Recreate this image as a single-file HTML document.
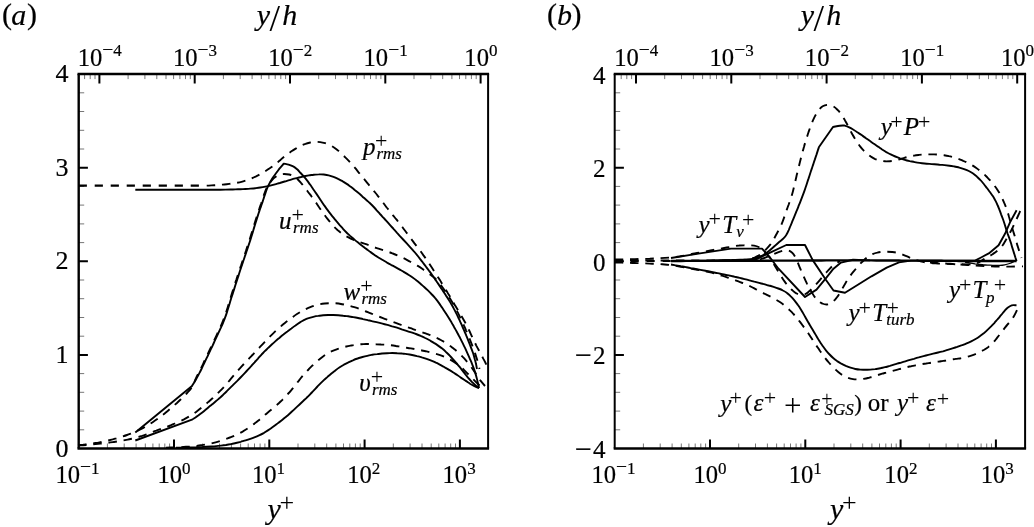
<!DOCTYPE html>
<html lang="en"><head><meta charset="utf-8"><title>Figure: rms profiles and TKE budget</title>
<style>html,body{margin:0;padding:0;background:#fff}body{width:1034px;height:527px;overflow:hidden}svg{display:block}svg text{font-family:'Liberation Serif', 'DejaVu Serif', serif;fill:#000;stroke:#000;stroke-width:.2px}.i{font-style:italic}.n{stroke:none}</style></head><body>
<svg width="1034" height="527" viewBox="0 0 1034 527">
<rect width="1034" height="527" fill="#fff"/>
<g fill="none" stroke="#000" stroke-linecap="butt" stroke-linejoin="round">
<g id="panel-a">
<path d="M107.4 448.5V443.5M124.2 448.5V443.5M136.1 448.5V443.5M145.3 448.5V443.5M152.9 448.5V443.5M159.2 448.5V443.5M164.8 448.5V443.5M169.6 448.5V443.5M202.7 448.5V443.5M219.5 448.5V443.5M231.4 448.5V443.5M240.6 448.5V443.5M248.2 448.5V443.5M254.5 448.5V443.5M260.1 448.5V443.5M264.9 448.5V443.5M298 448.5V443.5M314.8 448.5V443.5M326.7 448.5V443.5M335.9 448.5V443.5M343.5 448.5V443.5M349.8 448.5V443.5M355.4 448.5V443.5M360.2 448.5V443.5M393.3 448.5V443.5M410.1 448.5V443.5M422 448.5V443.5M431.2 448.5V443.5M438.8 448.5V443.5M445.1 448.5V443.5M450.7 448.5V443.5M455.5 448.5V443.5M84.6 74.1V79.1M90.2 74.1V79.1M95 74.1V79.1M128.1 74.1V79.1M144.9 74.1V79.1M156.8 74.1V79.1M166 74.1V79.1M173.6 74.1V79.1M179.9 74.1V79.1M185.5 74.1V79.1M190.3 74.1V79.1M223.4 74.1V79.1M240.2 74.1V79.1M252.1 74.1V79.1M261.3 74.1V79.1M268.9 74.1V79.1M275.2 74.1V79.1M280.8 74.1V79.1M285.6 74.1V79.1M318.7 74.1V79.1M335.5 74.1V79.1M347.4 74.1V79.1M356.6 74.1V79.1M364.2 74.1V79.1M370.5 74.1V79.1M376.1 74.1V79.1M380.9 74.1V79.1M414 74.1V79.1M430.8 74.1V79.1M442.7 74.1V79.1M451.9 74.1V79.1M459.5 74.1V79.1M465.8 74.1V79.1M471.4 74.1V79.1M476.2 74.1V79.1M78.7 92.8H84.2M78.7 111.5H84.2M78.7 130.3H84.2M78.7 149H84.2M78.7 186.4H84.2M78.7 205.1H84.2M78.7 223.9H84.2M78.7 242.6H84.2M78.7 280H84.2M78.7 298.7H84.2M78.7 317.5H84.2M78.7 336.2H84.2M78.7 373.6H84.2M78.7 392.3H84.2M78.7 411.1H84.2M78.7 429.8H84.2" stroke="#777" stroke-width="1"/>
<path d="M174 448.5V439.5M269.3 448.5V439.5M364.6 448.5V439.5M459.9 448.5V439.5M99.4 74.1V83.6M194.7 74.1V83.6M290 74.1V83.6M385.3 74.1V83.6M480.6 74.1V83.6M78.7 167.7H87.9M78.7 261.3H87.9M78.7 354.9H87.9" stroke-width="2"/>
<path d="M77.5 74.1H489.1" stroke-width="2.5"/>
<path d="M77.5 448.5H489.1" stroke-width="2.5"/>
<path d="M78.7 74.1V448.5" stroke-width="2.4"/>
<path d="M488.1 74.1V448.5" stroke-width="2"/>
<path d="M78.7 185.7L206.7 185.7" stroke-width="2.2" stroke-dasharray="8.2 7.8"/>
<path d="M206.7 185.6C207.5 185.6 210 185.5 211.7 185.4C213.4 185.3 215 185.2 216.7 185.1C218.4 185 220 184.8 221.7 184.7C223.3 184.5 225 184.4 226.7 184.2C228.3 184 230 183.8 231.6 183.6C233.3 183.3 234.9 183.1 236.6 182.8C238.2 182.5 239.8 182.2 241.5 181.8C243.1 181.4 244.7 180.9 246.3 180.4C247.8 179.9 249.4 179.3 251 178.6C252.5 178 254 177.3 255.6 176.6C257.1 175.9 258.5 175.2 260 174.4C261.5 173.6 262.9 172.7 264.3 171.8C265.7 171 267.2 170.1 268.5 169.1C269.9 168.2 271.4 167.3 272.7 166.3C274.1 165.4 275.4 164.4 276.7 163.3C277.9 162.2 279.1 161.1 280.4 160C281.6 158.9 282.8 157.7 284.1 156.7C285.4 155.6 286.8 154.7 288.1 153.7C289.5 152.7 290.9 151.8 292.3 150.8C293.7 149.9 295 148.9 296.5 148.1C297.9 147.2 299.3 146.4 300.8 145.7C302.3 145 303.9 144.4 305.5 143.9C307.1 143.3 308.7 142.9 310.3 142.5C311.9 142.2 313.6 141.9 315.2 141.8C316.9 141.8 318.6 141.9 320.2 142.1C321.8 142.3 323.5 142.7 325.1 143.2C326.6 143.7 328.2 144.3 329.7 145C331.2 145.7 332.6 146.6 334 147.5C335.4 148.5 336.7 149.5 338 150.6C339.3 151.6 340.5 152.7 341.7 153.9C343 155 344.2 156.2 345.3 157.4C346.5 158.5 347.7 159.7 348.8 160.9C350 162.2 351.1 163.4 352.2 164.6C353.3 165.9 354.4 167.2 355.5 168.4C356.5 169.7 357.6 171 358.6 172.3C359.7 173.6 360.7 174.9 361.8 176.2C362.8 177.5 363.9 178.8 365 180.1C366 181.3 367.1 182.6 368.1 183.9C369.2 185.2 370.2 186.5 371.3 187.8C372.4 189.1 373.4 190.4 374.5 191.7C375.5 192.9 376.6 194.2 377.6 195.6C378.6 196.9 379.6 198.2 380.7 199.5C381.7 200.9 382.6 202.2 383.7 203.5C384.7 204.8 385.7 206.2 386.7 207.5C387.8 208.8 388.8 210.1 389.9 211.4C390.9 212.7 392 214 393 215.3C394.1 216.6 395.1 217.9 396.2 219.2C397.2 220.5 398.2 221.8 399.3 223.1C400.3 224.4 401.3 225.7 402.3 227C403.3 228.4 404.3 229.7 405.3 231C406.3 232.4 407.3 233.7 408.3 235C409.3 236.4 410.3 237.7 411.3 239.1C412.3 240.4 413.3 241.7 414.3 243.1C415.3 244.4 416.3 245.7 417.3 247C418.4 248.4 419.4 249.7 420.4 251C421.4 252.4 422.3 253.7 423.3 255.1C424.3 256.4 425.2 257.8 426.2 259.2C427.1 260.5 428.1 261.9 429 263.3C429.9 264.7 430.8 266.1 431.8 267.5C432.7 268.9 433.6 270.3 434.5 271.7C435.4 273.1 436.3 274.5 437.2 275.9C438.1 277.3 439 278.7 439.9 280.1C440.8 281.5 441.6 282.9 442.5 284.3C443.4 285.8 444.3 287.2 445.1 288.6C446 290 446.9 291.5 447.7 292.9C448.6 294.3 449.4 295.8 450.3 297.2C451.1 298.6 452 300.1 452.8 301.5C453.6 303 454.5 304.4 455.3 305.8C456.2 307.3 457 308.7 457.9 310.1C458.7 311.6 459.6 313 460.5 314.4C461.3 315.9 462.2 317.3 463 318.7C463.9 320.2 464.7 321.6 465.5 323.1C466.3 324.6 467 326 467.8 327.5C468.5 329 469.2 330.5 469.9 332C470.6 333.5 471.3 335.1 472 336.6C472.7 338.1 473.4 339.6 474.1 341.1C474.9 342.6 475.6 344.1 476.3 345.6C477.1 347.1 477.9 348.6 478.7 350C479.4 351.5 480.2 353 481 354.4C481.8 355.9 482.6 357.4 483.4 358.9C484.2 360.3 485.1 362.1 485.7 363.3C486.3 364.5 486.8 365.6 487 366" stroke-width="1.9" stroke-dasharray="8.5 6.8"/>
<path d="M135.3 189.7C136.1 189.7 138.6 189.7 140.3 189.7C142 189.7 143.6 189.7 145.3 189.8C147 189.8 148.6 189.8 150.3 189.8C152 189.8 153.7 189.8 155.3 189.8C157 189.8 158.7 189.8 160.3 189.8C162 189.8 163.7 189.8 165.3 189.8C167 189.8 168.7 189.8 170.3 189.8C172 189.8 173.7 189.8 175.3 189.8C177 189.8 178.7 189.8 180.3 189.8C182 189.8 183.7 189.8 185.4 189.8C187 189.8 188.7 189.8 190.4 189.8C192 189.8 193.7 189.8 195.4 189.8C197 189.8 198.7 189.8 200.4 189.8C202 189.8 203.7 189.8 205.4 189.8C207 189.8 208.7 189.8 210.4 189.8C212 189.7 213.7 189.7 215.4 189.7C217.1 189.7 218.7 189.7 220.4 189.7C222.1 189.7 223.7 189.7 225.4 189.6C227.1 189.6 228.7 189.6 230.4 189.5C232.1 189.5 233.7 189.4 235.4 189.4C237.1 189.3 238.7 189.3 240.4 189.2C242.1 189.1 243.7 189.1 245.4 189C247.1 188.9 248.7 188.8 250.4 188.6C252.1 188.5 253.7 188.4 255.4 188.2C257 188 258.7 187.8 260.3 187.5C262 187.3 263.6 187 265.3 186.6C266.9 186.3 268.5 186 270.2 185.6C271.8 185.2 273.4 184.8 275 184.3C276.6 183.9 278.2 183.4 279.8 183C281.4 182.5 283 182 284.6 181.5C286.2 181 287.8 180.6 289.4 180.1C291 179.6 292.6 179.2 294.2 178.7C295.8 178.3 297.5 177.9 299.1 177.5C300.7 177.1 302.3 176.7 304 176.3C305.6 176 307.2 175.7 308.9 175.4C310.5 175.2 312.2 174.9 313.8 174.7C315.5 174.6 317.2 174.4 318.8 174.4C320.5 174.3 322.2 174.3 323.8 174.5C325.5 174.7 327.1 174.9 328.7 175.3C330.3 175.7 331.9 176.2 333.5 176.8C335 177.4 336.6 178.1 338.1 178.9C339.6 179.6 341 180.4 342.5 181.2C343.9 182.1 345.3 183 346.7 183.9C348.1 184.8 349.4 185.8 350.8 186.8C352.1 187.8 353.4 188.8 354.7 189.9C356 190.9 357.3 192 358.6 193.1C359.9 194.1 361.1 195.3 362.3 196.4C363.6 197.5 364.8 198.6 366.1 199.7C367.3 200.8 368.6 201.9 369.8 203C371 204.1 372.2 205.3 373.3 206.5C374.5 207.8 375.6 209 376.7 210.3C377.8 211.5 378.9 212.8 380 214C381.2 215.2 382.3 216.5 383.4 217.7C384.5 219 385.6 220.2 386.8 221.4C387.9 222.7 389 223.9 390.1 225.1C391.2 226.4 392.4 227.6 393.5 228.9C394.6 230.1 395.7 231.3 396.8 232.6C397.9 233.8 399.1 235 400.2 236.3C401.3 237.5 402.4 238.7 403.6 240C404.7 241.2 405.8 242.4 407 243.7C408.1 244.9 409.2 246.1 410.3 247.3C411.5 248.6 412.6 249.8 413.7 251.1C414.8 252.3 415.9 253.6 416.9 254.9C418 256.2 419 257.5 420 258.8C421.1 260.1 422.1 261.4 423.1 262.8C424.1 264.1 425.1 265.4 426.1 266.8C427.1 268.1 428.1 269.4 429.1 270.8C430.1 272.1 431.1 273.5 432 274.8C433 276.2 434 277.6 434.9 278.9C435.8 280.3 436.8 281.7 437.7 283.1C438.6 284.5 439.6 285.8 440.5 287.2C441.4 288.6 442.4 290 443.3 291.4C444.2 292.8 445.1 294.2 446 295.6C447 297 447.9 298.4 448.7 299.8C449.6 301.2 450.5 302.6 451.3 304.1C452.1 305.5 453 307 453.7 308.4C454.5 309.9 455.3 311.4 456 312.9C456.8 314.4 457.5 315.9 458.2 317.4C458.9 318.9 459.7 320.4 460.3 321.9C461 323.4 461.7 325 462.4 326.5C463.1 328 463.7 329.6 464.4 331.1C465 332.6 465.7 334.2 466.3 335.7C467 337.3 467.6 338.8 468.2 340.4C468.8 341.9 469.4 343.5 470 345C470.6 346.6 471.2 348.1 471.8 349.7C472.4 351.3 472.9 352.8 473.5 354.4C474 356 474.4 357.6 474.8 359.2C475.3 360.8 475.7 362.4 476 364.1C476.4 365.7 476.8 368.2 477 369" stroke-width="1.9"/>
<path d="M135.3 432.5L192 386C192.4 385.3 193.8 383.2 194.6 381.7C195.5 380.3 196.3 378.8 197.1 377.4C198 375.9 198.7 374.4 199.5 372.9C200.3 371.5 201 370 201.7 368.5C202.4 366.9 203.1 365.4 203.9 363.9C204.6 362.4 205.3 360.9 206 359.4C206.7 357.9 207.5 356.4 208.2 354.8C208.9 353.3 209.6 351.8 210.3 350.3C211 348.8 211.8 347.3 212.5 345.8C213.2 344.3 213.9 342.7 214.6 341.2C215.3 339.7 216 338.2 216.7 336.7C217.4 335.2 218.1 333.6 218.8 332.1C219.5 330.6 220.2 329.1 220.9 327.6C221.6 326 222.3 324.5 223 323C223.6 321.4 224.2 319.9 224.8 318.3C225.4 316.8 226 315.2 226.5 313.6C227 312 227.5 310.4 228 308.8C228.5 307.2 229 305.6 229.5 304C230 302.4 230.4 300.8 230.9 299.2C231.4 297.6 231.9 296 232.5 294.4C233 292.8 233.5 291.2 234 289.6C234.5 288 235 286.4 235.5 284.8C236 283.2 236.5 281.7 237 280.1C237.5 278.5 238 276.9 238.6 275.3C239.1 273.7 239.6 272.1 240.1 270.5C240.7 268.9 241.2 267.4 241.7 265.8C242.3 264.2 242.8 262.6 243.3 261C243.9 259.4 244.4 257.8 244.9 256.2C245.5 254.7 246 253.1 246.5 251.5C247.1 249.9 247.6 248.3 248.1 246.7C248.6 245.1 249.2 243.6 249.7 242C250.2 240.4 250.7 238.8 251.2 237.2C251.7 235.6 252.2 234 252.7 232.4C253.2 230.8 253.6 229.2 254.1 227.6C254.6 226 255.1 224.4 255.6 222.8C256.1 221.2 256.6 219.6 257.1 218C257.6 216.4 258.1 214.8 258.6 213.2C259.1 211.6 259.7 210 260.2 208.5C260.8 206.9 261.3 205.3 261.9 203.7C262.4 202.1 263 200.5 263.5 199C264 197.4 264.5 195.8 265.1 194.2C265.6 192.6 266.1 191 266.7 189.4C267.3 187.9 268 186.3 268.7 184.8C269.4 183.3 270.2 181.9 271.1 180.4C271.9 179 272.9 177.6 273.8 176.3C274.8 174.9 275.8 173.6 276.8 172.2C277.8 170.9 278.7 169.6 279.8 168.2C281 166.8 283.1 164.4 283.7 163.6C284.5 163.8 287 164.2 288.6 164.6C290.2 165.1 291.8 165.6 293.2 166.4C294.7 167.1 295.9 168.2 297.2 169.3C298.4 170.4 299.5 171.8 300.6 173C301.7 174.2 302.9 175.4 304 176.7C305.1 178 306.1 179.2 307.2 180.6C308.2 181.9 309.1 183.3 310.1 184.6C311 186 312 187.4 312.9 188.7C313.9 190.1 314.9 191.5 315.8 192.9C316.8 194.2 317.7 195.6 318.6 197C319.5 198.4 320.4 199.8 321.4 201.2C322.3 202.6 323.2 204 324.2 205.4C325.2 206.7 326.1 208.1 327.1 209.4C328.1 210.8 329.1 212.1 330.1 213.4C331.2 214.8 332.2 216.1 333.3 217.4C334.3 218.7 335.4 219.9 336.4 221.2C337.5 222.5 338.6 223.8 339.7 225.1C340.8 226.3 341.9 227.6 343 228.8C344.1 230.1 345.3 231.3 346.5 232.5C347.6 233.6 348.9 234.7 350.1 235.9C351.4 237 352.7 238.1 353.9 239.1C355.2 240.2 356.5 241.3 357.8 242.3C359.1 243.3 360.4 244.4 361.8 245.4C363.1 246.4 364.4 247.5 365.7 248.5C367 249.5 368.4 250.5 369.7 251.5C371.1 252.5 372.4 253.5 373.8 254.4C375.2 255.4 376.6 256.3 378 257.2C379.4 258.1 380.8 258.9 382.3 259.8C383.7 260.6 385.2 261.5 386.6 262.3C388.1 263.1 389.5 263.9 391 264.8C392.5 265.6 393.9 266.3 395.4 267.1C396.9 267.9 398.3 268.7 399.8 269.6C401.2 270.4 402.7 271.2 404.1 272.1C405.5 273 407 273.8 408.4 274.7C409.8 275.6 411.2 276.5 412.6 277.5C413.9 278.4 415.3 279.4 416.6 280.5C417.9 281.5 419.2 282.6 420.5 283.7C421.7 284.8 423 285.9 424.2 287C425.4 288.1 426.7 289.3 427.9 290.4C429.1 291.6 430.3 292.8 431.4 294C432.6 295.2 433.7 296.4 434.8 297.7C435.9 298.9 436.9 300.3 437.9 301.6C438.9 302.9 439.8 304.3 440.8 305.7C441.7 307.1 442.7 308.5 443.6 309.9C444.5 311.3 445.4 312.7 446.3 314.1C447.2 315.5 448.1 316.9 449 318.3C449.8 319.8 450.7 321.2 451.6 322.6C452.4 324.1 453.3 325.5 454.1 327C454.9 328.4 455.7 329.9 456.5 331.3C457.3 332.8 458.1 334.3 458.9 335.8C459.7 337.2 460.4 338.7 461.2 340.2C461.9 341.7 462.7 343.2 463.4 344.7C464.1 346.2 464.9 347.7 465.6 349.2C466.3 350.8 467 352.3 467.7 353.8C468.4 355.3 469.1 356.9 469.7 358.4C470.4 359.9 471 361.5 471.7 363C472.3 364.6 472.9 366.1 473.5 367.7C474.1 369.3 474.6 370.8 475.1 372.4C475.6 374 476.1 375.6 476.5 377.2C476.9 378.8 477.3 380.3 477.7 382.1C478.1 383.9 478.8 387 479 388" stroke-width="1.9"/>
<path d="M78 445C78.8 444.9 81.3 444.7 83 444.6C84.7 444.4 86.3 444.3 88 444.1C89.7 443.9 91.3 443.7 93 443.4C94.6 443.2 96.3 442.9 97.9 442.7C99.5 442.4 101.2 442.1 102.8 441.7C104.4 441.4 106.1 441 107.7 440.6C109.3 440.2 110.9 439.8 112.6 439.4C114.2 438.9 115.8 438.5 117.4 438C119 437.6 120.6 437.1 122.2 436.6C123.8 436.1 125.4 435.6 127 435C128.6 434.5 130.1 433.9 131.7 433.3C133.2 432.7 134.8 432.1 136.3 431.4C137.8 430.7 139.3 430 140.8 429.2C142.3 428.5 143.8 427.7 145.2 426.8C146.7 426 148.1 425.1 149.5 424.3C150.9 423.4 152.3 422.5 153.7 421.5C155.1 420.6 156.5 419.6 157.8 418.7C159.2 417.7 160.5 416.7 161.8 415.6C163.1 414.6 164.5 413.6 165.8 412.5C167.1 411.4 168.3 410.4 169.6 409.3C170.9 408.2 172.2 407.2 173.4 406.1C174.7 405 175.9 403.8 177.2 402.7C178.4 401.6 179.6 400.4 180.8 399.3C182 398.1 183.2 396.9 184.4 395.8C185.6 394.6 186.7 393.4 187.8 392.1C188.9 390.9 190.2 389.4 191.1 388.3C192 387.3 192.7 386.4 193 386C193.3 385.2 194.1 382.8 194.7 381.3C195.3 379.7 196 378.2 196.7 376.7C197.4 375.2 198.3 373.8 199 372.3C199.8 370.8 200.5 369.3 201.2 367.8C202 366.3 202.7 364.8 203.4 363.3C204.1 361.8 204.8 360.2 205.5 358.7C206.2 357.2 207 355.7 207.7 354.2C208.4 352.7 209.1 351.2 209.8 349.7C210.5 348.2 211.2 346.7 211.9 345.2C212.7 343.7 213.4 342.1 214.1 340.6C214.8 339.1 215.5 337.6 216.2 336.1C216.9 334.6 217.6 333.1 218.3 331.5C219 330 219.7 328.5 220.4 327C221.1 325.5 221.8 323.9 222.4 322.4C223 320.9 223.7 319.3 224.2 317.8C224.8 316.2 225.4 314.6 225.9 313.1C226.4 311.5 226.9 309.9 227.4 308.3C227.9 306.7 228.3 305.1 228.8 303.5C229.3 301.9 229.8 300.3 230.3 298.7C230.8 297.1 231.3 295.5 231.8 293.9C232.3 292.3 232.8 290.7 233.3 289.1C233.8 287.5 234.3 286 234.8 284.4C235.3 282.8 235.8 281.2 236.4 279.6C236.9 278 237.4 276.4 237.9 274.8C238.4 273.3 239 271.7 239.5 270.1C240 268.5 240.5 266.9 241.1 265.3C241.6 263.8 242.1 262.2 242.7 260.6C243.2 259 243.7 257.4 244.3 255.9C244.8 254.3 245.3 252.7 245.9 251.1C246.4 249.5 246.9 247.9 247.4 246.4C248 244.8 248.5 243.2 249 241.6C249.5 240 250 238.4 250.5 236.8C251 235.2 251.5 233.6 252 232C252.5 230.4 252.9 228.8 253.4 227.3C253.9 225.7 254.4 224.1 254.9 222.5C255.4 220.9 255.9 219.3 256.4 217.7C256.9 216.1 257.4 214.5 257.9 212.9C258.4 211.3 259 209.8 259.5 208.2C260.1 206.6 260.6 205 261.2 203.5C261.7 201.9 262.2 200.3 262.8 198.7C263.3 197.1 263.8 195.5 264.3 193.9C264.9 192.3 265.4 190.7 266.1 189.2C266.8 187.7 267.5 186.3 268.4 184.9C269.3 183.5 270.3 182.1 271.4 180.8C272.5 179.6 273.7 178.2 275 177.3C276.3 176.3 277.7 175.5 279.2 174.9C280.7 174.4 282.4 174.1 284.1 174C285.7 174 287.4 174.1 289 174.5C290.6 174.9 292.2 175.5 293.6 176.3C295 177.1 296.4 178.1 297.6 179.2C298.8 180.3 299.9 181.6 301 182.9C302.1 184.1 303.1 185.5 304.1 186.8C305.1 188.1 306.2 189.4 307.2 190.7C308.2 192.1 309.2 193.4 310.2 194.7C311.2 196 312.2 197.4 313.2 198.7C314.1 200.1 315.1 201.5 316.1 202.8C317 204.2 317.9 205.6 318.9 207C319.8 208.3 320.8 209.7 321.7 211.1C322.7 212.4 323.7 213.8 324.7 215.1C325.7 216.5 326.7 217.8 327.7 219.1C328.7 220.4 329.8 221.8 330.8 223C331.9 224.3 333 225.6 334.1 226.8C335.3 228 336.5 229.2 337.7 230.3C339 231.3 340.3 232.4 341.7 233.3C343 234.3 344.5 235.1 345.9 236C347.3 236.8 348.8 237.6 350.3 238.3C351.8 239 353.4 239.7 354.9 240.4C356.4 241 358 241.6 359.6 242.1C361.1 242.7 362.7 243.2 364.3 243.7C365.9 244.2 367.5 244.7 369.1 245.3C370.6 245.8 372.2 246.5 373.7 247.1C375.3 247.6 376.9 248.2 378.5 248.7C380.1 249.2 381.7 249.7 383.3 250.2C384.8 250.7 386.4 251.2 388 251.7C389.6 252.3 391.2 252.8 392.7 253.5C394.3 254.1 395.8 254.7 397.3 255.4C398.9 256 400.4 256.7 401.9 257.4C403.4 258.1 404.9 258.8 406.4 259.6C407.9 260.4 409.4 261.2 410.8 262C412.3 262.8 413.8 263.6 415.2 264.4C416.6 265.2 418.1 266.1 419.5 266.9C420.9 267.8 422.3 268.8 423.6 269.8C425 270.7 426.3 271.7 427.7 272.7C429 273.7 430.4 274.7 431.7 275.7C433.1 276.7 434.4 277.7 435.6 278.8C436.8 280 437.9 281.2 438.9 282.5C440 283.8 441 285.2 441.9 286.5C442.9 287.9 443.9 289.3 444.8 290.6C445.8 292 446.7 293.4 447.6 294.8C448.5 296.2 449.4 297.6 450.3 299C451.1 300.5 452 301.9 452.9 303.3C453.7 304.8 454.5 306.2 455.3 307.7C456.1 309.1 456.9 310.6 457.6 312.1C458.4 313.6 459.1 315.1 459.8 316.6C460.6 318.1 461.3 319.6 462 321.1C462.7 322.6 463.4 324.2 464 325.7C464.7 327.2 465.4 328.7 466 330.3C466.7 331.8 467.3 333.4 468 334.9C468.6 336.4 469.2 338 469.9 339.5C470.5 341.1 471.1 342.6 471.7 344.2C472.3 345.8 472.9 347.3 473.5 348.9C474 350.4 474.6 352 475.2 353.6C475.7 355.2 476.2 356.8 476.7 358.3C477.2 359.9 477.6 361.4 478 363.2C478.5 364.9 479.3 368 479.5 369" stroke-width="1.9" stroke-dasharray="8.5 6.8"/>
<path d="M135.3 440.5L192 419.7C192.7 419.2 194.8 417.9 196.2 416.9C197.6 416 198.9 415 200.2 414C201.6 413 202.9 412 204.2 410.9C205.5 409.9 206.7 408.8 208 407.7C209.3 406.6 210.6 405.6 211.9 404.5C213.2 403.4 214.5 402.4 215.8 401.3C217.1 400.3 218.3 399.2 219.6 398.1C220.8 396.9 222 395.8 223.2 394.7C224.4 393.5 225.6 392.3 226.8 391.2C228 390 229.2 388.8 230.4 387.6C231.6 386.5 232.7 385.3 233.9 384.1C235.1 382.9 236.3 381.7 237.5 380.6C238.7 379.4 239.9 378.2 241 377C242.2 375.8 243.4 374.6 244.5 373.4C245.7 372.2 246.8 371 247.9 369.7C249.1 368.5 250.2 367.3 251.3 366C252.4 364.8 253.5 363.5 254.6 362.3C255.7 361 256.9 359.8 258 358.6C259.1 357.3 260.2 356.1 261.3 354.8C262.5 353.6 263.6 352.4 264.8 351.2C266 350 267.2 348.9 268.4 347.7C269.6 346.6 270.8 345.4 272 344.3C273.3 343.2 274.5 342.1 275.8 340.9C277 339.8 278.3 338.8 279.6 337.7C280.8 336.6 282.1 335.5 283.4 334.5C284.7 333.4 286 332.4 287.4 331.4C288.7 330.4 290 329.4 291.4 328.4C292.7 327.4 294.1 326.4 295.5 325.5C296.8 324.5 298.2 323.5 299.6 322.6C301 321.7 302.5 320.9 303.9 320.1C305.4 319.4 307 318.7 308.5 318.2C310.1 317.6 311.7 317.2 313.3 316.8C315 316.4 316.6 316.1 318.3 315.9C319.9 315.6 321.6 315.5 323.2 315.3C324.9 315.2 326.6 315.1 328.2 315C329.9 315 331.6 315 333.3 315C334.9 315 336.6 315.1 338.3 315.2C339.9 315.3 341.6 315.5 343.2 315.7C344.9 315.8 346.6 316.1 348.2 316.3C349.9 316.6 351.5 316.8 353.2 317.1C354.8 317.4 356.5 317.7 358.1 318C359.7 318.4 361.4 318.7 363 319.1C364.6 319.4 366.3 319.8 367.9 320.2C369.5 320.5 371.1 320.9 372.8 321.3C374.4 321.7 376 322 377.6 322.4C379.3 322.8 380.9 323.2 382.5 323.6C384.1 324.1 385.7 324.5 387.4 324.9C389 325.4 390.6 325.8 392.2 326.3C393.8 326.7 395.4 327.2 397 327.7C398.6 328.2 400.2 328.7 401.7 329.3C403.3 329.8 404.9 330.3 406.5 330.8C408.1 331.4 409.7 331.9 411.3 332.4C412.9 332.9 414.4 333.5 416 334C417.6 334.6 419.1 335.2 420.7 335.9C422.2 336.5 423.7 337.2 425.2 338C426.7 338.7 428.2 339.5 429.6 340.3C431.1 341.2 432.5 342 433.9 342.9C435.4 343.8 436.8 344.7 438.1 345.6C439.5 346.6 440.9 347.6 442.2 348.6C443.5 349.6 444.7 350.7 445.9 351.9C447.2 353 448.3 354.2 449.5 355.4C450.6 356.6 451.8 357.9 452.9 359.1C454 360.3 455.1 361.6 456.2 362.9C457.3 364.1 458.3 365.4 459.4 366.7C460.4 368 461.5 369.3 462.5 370.6C463.6 371.9 464.6 373.3 465.6 374.6C466.7 375.9 467.7 377.2 468.8 378.5C469.9 379.7 471 381 472.1 382.2C473.3 383.4 474.7 384.6 475.8 385.6C477 386.5 478.5 387.6 479 388" stroke-width="1.9"/>
<path d="M78 445.5C78.8 445.5 81.3 445.3 83 445.2C84.7 445.1 86.3 445 88 444.8C89.7 444.7 91.3 444.6 93 444.4C94.7 444.2 96.3 444.1 98 443.9C99.6 443.7 101.3 443.5 102.9 443.3C104.6 443.2 106.2 443 107.9 442.8C109.5 442.5 111.2 442.3 112.9 442.1C114.5 441.9 116.2 441.6 117.8 441.4C119.5 441.1 121.1 440.8 122.8 440.5C124.4 440.2 126 439.9 127.7 439.6C129.3 439.3 130.9 438.9 132.6 438.5C134.2 438.2 135.8 437.8 137.4 437.3C139 436.9 140.6 436.4 142.1 435.9C143.7 435.3 145.3 434.8 146.9 434.2C148.4 433.6 150 433 151.6 432.4C153.1 431.8 154.7 431.2 156.3 430.7C157.8 430.1 159.4 429.5 161 428.9C162.5 428.4 164.1 427.8 165.7 427.2C167.2 426.7 168.8 426.1 170.4 425.5C171.9 424.8 173.4 424.2 175 423.5C176.5 422.9 178 422.2 179.5 421.5C181.1 420.8 182.6 420 184 419.3C185.5 418.5 187 417.7 188.4 416.9C189.9 416 191.3 415.2 192.6 414.3C194 413.3 195.4 412.4 196.7 411.4C198.1 410.4 199.4 409.4 200.7 408.3C202 407.3 203.3 406.2 204.6 405.1C205.9 404.1 207.2 403 208.4 401.9C209.7 400.8 210.9 399.7 212.2 398.6C213.4 397.5 214.6 396.3 215.8 395.2C217 394 218.2 392.8 219.4 391.6C220.6 390.5 221.7 389.3 222.9 388.1C224 386.8 225.1 385.6 226.2 384.3C227.3 383.1 228.4 381.8 229.5 380.6C230.5 379.3 231.6 378 232.7 376.7C233.8 375.4 234.8 374.2 235.9 372.9C237 371.6 238.1 370.4 239.2 369.1C240.3 367.9 241.5 366.7 242.6 365.4C243.7 364.2 244.9 363 246 361.8C247.1 360.6 248.3 359.3 249.4 358.1C250.6 356.9 251.7 355.7 252.9 354.5C254 353.3 255.2 352.1 256.3 350.9C257.5 349.7 258.6 348.5 259.8 347.2C260.9 346 262.1 344.8 263.2 343.6C264.3 342.4 265.5 341.2 266.6 340C267.8 338.8 269 337.6 270.1 336.4C271.3 335.2 272.5 334 273.7 332.9C274.9 331.7 276.1 330.6 277.3 329.4C278.6 328.3 279.8 327.2 281.1 326.1C282.3 325 283.6 324 284.9 322.9C286.2 321.9 287.5 320.9 288.9 319.9C290.2 318.9 291.5 317.8 292.9 316.9C294.2 315.9 295.6 314.9 297 314C298.4 313.1 299.8 312.2 301.2 311.4C302.7 310.6 304.2 309.8 305.7 309.1C307.2 308.4 308.7 307.7 310.3 307.1C311.8 306.5 313.4 305.9 315 305.4C316.6 304.9 318.2 304.5 319.8 304.2C321.5 303.9 323.1 303.7 324.8 303.5C326.4 303.3 328.1 303.2 329.8 303.2C331.4 303.1 333.1 303.1 334.8 303.2C336.4 303.2 338.1 303.5 339.7 303.7C341.4 304 343 304.3 344.6 304.7C346.3 305 347.9 305.4 349.5 305.8C351.1 306.2 352.7 306.7 354.3 307.2C355.9 307.7 357.5 308.2 359 308.8C360.6 309.4 362.2 310 363.7 310.6C365.3 311.2 366.8 311.8 368.4 312.4C369.9 313 371.5 313.6 373 314.3C374.6 314.9 376.1 315.5 377.7 316.1C379.2 316.7 380.8 317.3 382.3 317.9C383.9 318.5 385.4 319.1 387 319.7C388.6 320.3 390.1 320.9 391.7 321.5C393.2 322.1 394.8 322.7 396.4 323.2C397.9 323.8 399.5 324.4 401.1 324.9C402.6 325.5 404.2 326 405.8 326.6C407.4 327.1 408.9 327.7 410.5 328.2C412.1 328.8 413.7 329.3 415.3 329.9C416.8 330.4 418.4 330.9 420 331.5C421.6 332 423.1 332.6 424.7 333.1C426.3 333.7 427.9 334.2 429.4 334.8C431 335.4 432.5 336 434 336.7C435.6 337.4 437.1 338.1 438.6 338.8C440.1 339.6 441.5 340.4 443 341.2C444.4 342.1 445.8 342.9 447.2 343.9C448.6 344.8 450 345.8 451.3 346.7C452.6 347.7 453.9 348.8 455.2 349.8C456.5 350.9 457.8 352 459 353.1C460.2 354.3 461.4 355.5 462.5 356.7C463.7 357.9 464.8 359.1 465.9 360.4C467 361.7 468 362.9 469.1 364.2C470.1 365.5 471.1 366.9 472.1 368.2C473.1 369.6 474 371 474.9 372.3C475.9 373.7 476.7 375.1 477.7 376.5C478.6 377.9 479.3 379.1 480.5 380.7C481.7 382.2 484.2 385.1 485 386" stroke-width="1.9" stroke-dasharray="8.5 6.8"/>
<path d="M176 447.6C176.8 447.6 179.3 447.6 181 447.6C182.7 447.5 184.4 447.5 186 447.5C187.7 447.5 189.4 447.4 191 447.4C192.7 447.4 194.4 447.3 196.1 447.3C197.7 447.2 199.4 447.1 201.1 447.1C202.7 447 204.4 446.9 206.1 446.8C207.7 446.7 209.4 446.6 211.1 446.5C212.7 446.4 214.4 446.3 216.1 446.1C217.7 446 219.4 445.8 221.1 445.6C222.7 445.4 224.4 445.2 226 445C227.7 444.7 229.3 444.4 231 444.1C232.6 443.8 234.2 443.4 235.9 443C237.5 442.6 239.1 442.2 240.7 441.8C242.4 441.3 244 440.9 245.6 440.4C247.2 439.9 248.7 439.4 250.3 438.8C251.9 438.3 253.5 437.7 255 437.1C256.6 436.5 258.1 435.8 259.6 435.1C261.1 434.4 262.6 433.6 264.1 432.8C265.5 431.9 266.9 431 268.3 430.1C269.7 429.2 271.1 428.2 272.4 427.3C273.8 426.3 275.2 425.3 276.5 424.3C277.8 423.3 279.2 422.3 280.5 421.3C281.8 420.3 283.1 419.2 284.4 418.1C285.7 417.1 286.9 416 288.2 414.9C289.5 413.8 290.7 412.7 291.9 411.5C293.2 410.4 294.4 409.3 295.6 408.1C296.8 407 298.1 405.8 299.3 404.7C300.5 403.6 301.7 402.4 302.9 401.3C304.1 400.1 305.4 399 306.6 397.8C307.8 396.7 309 395.5 310.1 394.3C311.3 393.1 312.4 391.9 313.6 390.7C314.7 389.5 315.9 388.2 317 387C318.2 385.8 319.3 384.6 320.5 383.4C321.7 382.2 322.9 381.1 324.1 379.9C325.3 378.8 326.6 377.7 327.8 376.6C329.1 375.5 330.4 374.4 331.7 373.3C333 372.3 334.3 371.2 335.6 370.2C336.9 369.2 338.3 368.2 339.7 367.3C341.1 366.4 342.5 365.5 343.9 364.7C345.4 363.9 346.9 363.1 348.4 362.4C349.9 361.6 351.4 360.9 352.9 360.3C354.5 359.6 356.1 359 357.6 358.5C359.2 357.9 360.8 357.5 362.4 357C364 356.6 365.7 356.2 367.3 355.8C368.9 355.4 370.6 355.1 372.2 354.8C373.9 354.5 375.5 354.3 377.2 354.1C378.8 353.8 380.5 353.7 382.1 353.5C383.8 353.4 385.5 353.3 387.1 353.2C388.8 353.1 390.5 353.1 392.2 353C393.8 353 395.5 353.1 397.2 353.2C398.8 353.2 400.5 353.3 402.2 353.5C403.8 353.6 405.5 353.9 407.1 354.1C408.8 354.4 410.4 354.7 412.1 355C413.7 355.3 415.4 355.7 417 356.1C418.6 356.4 420.2 356.8 421.8 357.3C423.4 357.7 425 358.2 426.6 358.8C428.2 359.4 429.8 360 431.3 360.6C432.8 361.2 434.4 361.9 435.9 362.7C437.4 363.4 438.9 364.2 440.3 364.9C441.8 365.7 443.3 366.5 444.7 367.3C446.2 368.1 447.6 369 449.1 369.9C450.5 370.7 451.9 371.6 453.3 372.5C454.7 373.4 456.1 374.4 457.5 375.3C458.9 376.2 460.3 377.2 461.6 378.1C463 379 464.4 380 465.8 380.9C467.2 381.8 468.6 382.8 470 383.7C471.4 384.5 472.9 385.3 474.4 386.1C475.9 386.8 478.2 387.7 479 388" stroke-width="1.9"/>
<path d="M166 447.6C166.8 447.6 169.3 447.6 171 447.5C172.7 447.5 174.4 447.4 176 447.4C177.7 447.3 179.4 447.2 181 447.1C182.7 447.1 184.4 447 186 446.8C187.7 446.7 189.3 446.6 191 446.5C192.7 446.4 194.3 446.2 196 446C197.6 445.8 199.3 445.6 200.9 445.3C202.6 445 204.2 444.8 205.9 444.5C207.5 444.2 209.2 443.9 210.8 443.5C212.4 443.1 214 442.7 215.6 442.3C217.2 441.9 218.8 441.4 220.4 440.9C222 440.4 223.6 439.8 225.2 439.3C226.8 438.7 228.3 438.1 229.9 437.5C231.4 436.9 233 436.3 234.5 435.6C236 434.9 237.5 434.2 239 433.4C240.5 432.7 242 431.9 243.4 431.1C244.8 430.2 246.3 429.3 247.7 428.4C249.1 427.5 250.4 426.5 251.8 425.6C253.2 424.6 254.5 423.6 255.8 422.6C257.1 421.5 258.4 420.5 259.7 419.4C261 418.3 262.2 417.2 263.5 416.2C264.8 415.1 266 414 267.3 412.9C268.6 411.9 269.9 410.9 271.2 409.8C272.5 408.7 273.8 407.7 275.1 406.6C276.4 405.5 277.6 404.4 278.8 403.3C280 402.1 281.2 401 282.4 399.8C283.6 398.6 284.7 397.4 285.9 396.2C287 395 288.1 393.7 289.3 392.5C290.4 391.3 291.5 390 292.5 388.7C293.6 387.4 294.6 386.1 295.6 384.8C296.7 383.5 297.6 382.1 298.7 380.8C299.7 379.5 300.7 378.2 301.8 376.9C302.9 375.6 304 374.4 305.1 373.1C306.2 371.9 307.3 370.7 308.5 369.5C309.6 368.3 310.8 367.1 312 365.9C313.2 364.8 314.4 363.6 315.7 362.5C316.9 361.4 318.2 360.3 319.5 359.3C320.8 358.2 322.1 357.1 323.4 356.2C324.8 355.2 326.2 354.2 327.6 353.4C329 352.6 330.5 351.8 332 351.1C333.5 350.5 335.1 349.9 336.7 349.3C338.3 348.7 339.8 348.2 341.4 347.8C343 347.3 344.7 346.9 346.3 346.5C347.9 346.1 349.6 345.8 351.2 345.5C352.8 345.2 354.5 344.9 356.1 344.7C357.8 344.5 359.5 344.3 361.1 344.2C362.8 344.1 364.4 344.1 366.1 344C367.8 344 369.4 344.1 371.1 344.1C372.8 344.2 374.5 344.2 376.1 344.3C377.8 344.3 379.5 344.4 381.1 344.5C382.8 344.5 384.5 344.6 386.1 344.7C387.8 344.9 389.4 345 391.1 345.2C392.7 345.4 394.4 345.7 396 346C397.7 346.2 399.3 346.6 401 346.8C402.6 347.1 404.3 347.4 405.9 347.6C407.6 347.9 409.2 348.2 410.9 348.4C412.5 348.7 414.1 349 415.8 349.3C417.4 349.5 419.1 349.8 420.7 350.2C422.3 350.5 424 350.9 425.6 351.2C427.2 351.6 428.8 352 430.5 352.4C432.1 352.8 433.7 353.2 435.3 353.7C436.9 354.1 438.5 354.6 440.1 355.1C441.7 355.7 443.2 356.3 444.7 357C446.3 357.7 447.8 358.4 449.2 359.2C450.7 359.9 452.2 360.7 453.6 361.6C455 362.5 456.4 363.4 457.7 364.4C459 365.4 460.3 366.6 461.5 367.7C462.8 368.8 464 370 465.2 371.1C466.3 372.3 467.5 373.5 468.7 374.7C469.9 375.8 471 377 472.2 378.2C473.4 379.4 474.5 380.5 475.8 381.8C477.1 383.1 479.3 385.3 480 386" stroke-width="1.9" stroke-dasharray="8.5 6.8"/>
</g>
<g id="panel-b">
<path d="M643.4 448.5V443.5M660.2 448.5V443.5M672.1 448.5V443.5M681.3 448.5V443.5M688.9 448.5V443.5M695.2 448.5V443.5M700.8 448.5V443.5M705.6 448.5V443.5M738.7 448.5V443.5M755.5 448.5V443.5M767.4 448.5V443.5M776.6 448.5V443.5M784.2 448.5V443.5M790.5 448.5V443.5M796.1 448.5V443.5M800.9 448.5V443.5M834 448.5V443.5M850.8 448.5V443.5M862.7 448.5V443.5M871.9 448.5V443.5M879.5 448.5V443.5M885.8 448.5V443.5M891.4 448.5V443.5M896.2 448.5V443.5M929.3 448.5V443.5M946.1 448.5V443.5M958 448.5V443.5M967.2 448.5V443.5M974.8 448.5V443.5M981.1 448.5V443.5M986.7 448.5V443.5M991.5 448.5V443.5M621.2 74.1V79.1M626.8 74.1V79.1M631.6 74.1V79.1M664.7 74.1V79.1M681.5 74.1V79.1M693.4 74.1V79.1M702.6 74.1V79.1M710.2 74.1V79.1M716.5 74.1V79.1M722.1 74.1V79.1M726.9 74.1V79.1M760 74.1V79.1M776.8 74.1V79.1M788.7 74.1V79.1M797.9 74.1V79.1M805.5 74.1V79.1M811.8 74.1V79.1M817.4 74.1V79.1M822.2 74.1V79.1M855.3 74.1V79.1M872.1 74.1V79.1M884 74.1V79.1M893.2 74.1V79.1M900.8 74.1V79.1M907.1 74.1V79.1M912.7 74.1V79.1M917.5 74.1V79.1M950.6 74.1V79.1M967.4 74.1V79.1M979.3 74.1V79.1M988.5 74.1V79.1M996.1 74.1V79.1M1002.4 74.1V79.1M1008 74.1V79.1M1012.8 74.1V79.1M614.7 92.8H620.2M614.7 111.5H620.2M614.7 130.3H620.2M614.7 149H620.2M614.7 186.4H620.2M614.7 205.1H620.2M614.7 223.9H620.2M614.7 242.6H620.2M614.7 280H620.2M614.7 298.7H620.2M614.7 317.5H620.2M614.7 336.2H620.2M614.7 373.6H620.2M614.7 392.3H620.2M614.7 411.1H620.2M614.7 429.8H620.2" stroke="#777" stroke-width="1"/>
<path d="M710 448.5V439.5M805.3 448.5V439.5M900.6 448.5V439.5M995.9 448.5V439.5M636 74.1V83.6M731.3 74.1V83.6M826.6 74.1V83.6M921.9 74.1V83.6M1017.2 74.1V83.6M614.7 167.7H623.9M614.7 261.3H623.9M614.7 354.9H623.9" stroke-width="2"/>
<path d="M613.7 74.1H1026.1" stroke-width="2.5"/>
<path d="M613.7 448.5H1026.1" stroke-width="2.5"/>
<path d="M614.7 74.1V448.5" stroke-width="2.0"/>
<path d="M1025.1 74.1V448.5" stroke-width="2"/>
<path d="M671 261C671.8 261 674.3 261 676 261C677.7 261 679.3 261 681 261C682.7 261 684.4 261 686 260.9C687.7 260.9 689.4 260.9 691 260.9C692.7 260.9 694.4 260.9 696 260.9C697.7 260.9 699.4 260.9 701.1 260.9C702.7 260.9 704.4 260.9 706.1 260.9C707.7 260.9 709.4 260.9 711.1 260.9C712.7 260.9 714.4 260.9 716.1 260.8C717.7 260.8 719.4 260.8 721.1 260.8C722.8 260.8 724.4 260.8 726.1 260.8C727.8 260.8 729.4 260.8 731.1 260.8C732.8 260.8 734.4 260.8 736.1 260.8C737.8 260.8 739.5 260.8 741.1 260.8C742.8 260.8 744.5 260.8 746.1 260.7C747.8 260.7 749.5 260.7 751.1 260.7C752.8 260.7 754.5 260.7 756.1 260.7C757.8 260.7 759.5 260.7 761.2 260.7C762.8 260.7 764.5 260.7 766.2 260.7C767.8 260.7 769.5 260.7 771.2 260.7C772.8 260.7 774.5 260.6 776.2 260.6C777.9 260.6 779.5 260.6 781.2 260.6C782.9 260.6 784.5 260.6 786.2 260.6C787.9 260.6 789.5 260.6 791.2 260.6C792.9 260.6 794.5 260.6 796.2 260.6C797.9 260.5 799.6 260.5 801.2 260.5C802.9 260.5 804.6 260.5 806.2 260.5C807.9 260.5 809.6 260.5 811.2 260.5C812.9 260.5 814.6 260.5 816.3 260.5C817.9 260.5 819.6 260.5 821.3 260.5C822.9 260.4 824.6 260.4 826.3 260.4C827.9 260.4 829.6 260.4 831.3 260.4C832.9 260.4 834.6 260.4 836.3 260.4C838 260.4 839.6 260.4 841.3 260.4C843 260.4 844.6 260.4 846.3 260.4C848 260.4 849.6 260.4 851.3 260.4C853 260.4 854.7 260.4 856.3 260.4C858 260.4 859.7 260.4 861.3 260.4C863 260.4 864.7 260.4 866.3 260.4C868 260.4 869.7 260.4 871.3 260.4C873 260.4 874.7 260.4 876.4 260.5C878 260.5 879.7 260.5 881.4 260.5C883 260.5 884.7 260.5 886.4 260.5C888 260.5 889.7 260.5 891.4 260.5C893.1 260.5 894.7 260.5 896.4 260.5C898.1 260.5 899.7 260.6 901.4 260.6C903.1 260.6 904.7 260.6 906.4 260.6C908.1 260.6 909.7 260.6 911.4 260.6C913.1 260.6 914.8 260.6 916.4 260.6C918.1 260.6 919.8 260.7 921.4 260.7C923.1 260.7 924.8 260.7 926.4 260.7C928.1 260.7 929.8 260.7 931.5 260.7C933.1 260.8 934.8 260.8 936.5 260.8C938.1 260.8 939.8 260.8 941.5 260.8C943.1 260.8 944.8 260.9 946.5 260.9C948.1 260.9 949.8 260.9 951.5 260.9C953.2 260.9 954.8 260.9 956.5 260.9C958.2 260.9 959.8 261 961.5 261C963.2 261 964.8 261 966.5 261C968.2 261 969.9 261 971.5 261C973.2 261 974.9 261 976.5 261C978.2 261 979.9 261 981.5 261C983.2 261 984.9 261 986.5 261C988.2 261 989.9 261 991.6 261C993.2 261 994.9 261 996.6 261C998.2 261 999.9 261 1001.6 261C1003.2 261 1004.9 261 1006.6 261C1008.3 261 1009.9 261 1011.6 261C1013.3 261 1015.8 261 1016.6 261" stroke-width="2.4"/>
<path d="M614.7 261L671 261L750 261" stroke-width="2" stroke-dasharray="8 8"/>
<path d="M700 260.8C700.8 260.8 703.3 260.7 705 260.7C706.7 260.7 708.4 260.6 710 260.6C711.7 260.6 713.4 260.5 715.1 260.5C716.7 260.4 718.4 260.4 720.1 260.3C721.7 260.3 723.4 260.3 725.1 260.2C726.8 260.2 728.4 260.1 730.1 260.1C731.8 260 733.5 260 735.1 259.9C736.8 259.9 738.5 259.9 740.2 259.8C741.8 259.8 743.5 259.7 745.2 259.6C746.9 259.5 748.5 259.5 750.2 259.3C751.8 259.1 753.5 258.8 755.1 258.4C756.7 258 758.3 257.4 759.8 256.7C761.3 256.1 762.8 255.2 764.2 254.4C765.6 253.5 767 252.5 768.3 251.5C769.7 250.5 770.9 249.4 772.2 248.3C773.5 247.2 774.7 246 775.9 244.9C777.2 243.8 778.4 242.7 779.7 241.6C781 240.5 782.4 239.5 783.5 238.4C784.7 237.2 785.7 236 786.5 234.6C787.4 233.2 788 231.6 788.7 230.1C789.4 228.5 790 226.9 790.7 225.4C791.3 223.8 792 222.3 792.6 220.7C793.3 219.2 793.9 217.6 794.5 216.1C795.2 214.5 795.8 213 796.4 211.4C797.1 209.9 797.7 208.3 798.3 206.8C798.9 205.2 799.6 203.7 800.2 202.1C800.8 200.6 801.4 199 802 197.4C802.6 195.9 803.2 194.3 803.8 192.7C804.3 191.2 804.9 189.6 805.4 188C806 186.4 806.5 184.8 807 183.2C807.5 181.6 808 180 808.6 178.4C809.1 176.9 809.6 175.3 810.1 173.7C810.6 172.1 811.2 170.5 811.7 168.9C812.2 167.3 812.8 165.7 813.3 164.1C813.8 162.6 814.3 161 814.9 159.4C815.4 157.8 815.9 156.2 816.5 154.6C817 153 817.6 151.1 818 149.9C818.5 148.6 818.8 147.5 819 147C820.2 145.3 823.7 140.3 826 137C828.3 133.7 831.8 128.7 833 127C833.8 126.8 836.2 126.3 838 126C839.8 125.7 843 125.5 844 125.4C844.8 125.7 847.2 126.5 848.7 127.2C850.2 127.9 851.7 128.7 853.1 129.5C854.6 130.4 856 131.3 857.3 132.2C858.7 133.1 860.1 134.1 861.5 135C862.9 136 864.2 137 865.6 137.9C867 138.9 868.4 139.8 869.7 140.8C871.1 141.8 872.4 142.8 873.8 143.7C875.2 144.7 876.5 145.7 877.9 146.6C879.3 147.6 880.7 148.5 882.1 149.5C883.5 150.4 884.9 151.3 886.3 152.1C887.8 152.9 889.2 153.7 890.7 154.4C892.2 155.2 893.8 155.9 895.3 156.5C896.9 157.1 898.4 157.7 900 158.3C901.6 158.8 903.2 159.3 904.8 159.8C906.4 160.3 908 160.7 909.7 161.1C911.3 161.4 912.9 161.8 914.6 162.1C916.2 162.4 917.9 162.7 919.5 162.9C921.2 163.1 922.8 163.3 924.5 163.5C926.2 163.7 927.8 163.8 929.5 163.9C931.2 164.1 932.8 164.2 934.5 164.3C936.2 164.4 937.9 164.5 939.5 164.7C941.2 164.8 942.9 165 944.5 165.1C946.2 165.3 947.9 165.5 949.5 165.7C951.2 165.9 952.8 166.2 954.5 166.5C956.1 166.9 957.7 167.2 959.3 167.6C961 168.1 962.6 168.6 964.1 169.1C965.7 169.7 967.3 170.3 968.8 171C970.3 171.8 971.7 172.6 973.1 173.5C974.5 174.5 975.8 175.5 977 176.7C978.3 177.8 979.4 179 980.5 180.2C981.7 181.4 982.7 182.7 983.8 184C984.9 185.3 985.9 186.7 986.9 188C987.9 189.3 988.9 190.7 989.9 192C990.9 193.4 991.9 194.7 992.8 196.1C993.7 197.5 994.5 199 995.3 200.4C996.1 201.9 996.8 203.4 997.5 205C998.2 206.5 998.8 208.1 999.4 209.6C1000 211.2 1000.6 212.7 1001.1 214.3C1001.7 215.9 1002.3 217.4 1002.9 219C1003.5 220.6 1004 222.2 1004.5 223.8C1005 225.4 1005.5 227 1006 228.6C1006.5 230.2 1007 231.8 1007.5 233.3C1008.1 234.9 1008.7 236.5 1009.3 238.1C1009.8 239.6 1010.3 241.2 1010.9 242.8C1011.4 244.4 1011.8 246 1012.3 247.6C1012.8 249.2 1013.3 250.8 1013.8 252.4C1014.3 254 1014.9 255.8 1015.3 257.2C1015.8 258.6 1016.4 260.4 1016.6 261" stroke-width="1.9"/>
<path d="M614.7 260.5C615.5 260.5 618 260.5 619.7 260.5C621.4 260.5 623 260.5 624.7 260.5C626.4 260.5 628 260.5 629.7 260.5C631.4 260.5 633 260.5 634.7 260.5C636.4 260.5 638 260.5 639.7 260.5C641.4 260.5 643 260.5 644.7 260.5C646.4 260.5 648.1 260.5 649.7 260.5C651.4 260.5 653.1 260.5 654.7 260.5C656.4 260.5 658.1 260.5 659.7 260.5C661.4 260.5 663.1 260.5 664.7 260.5C666.4 260.5 668.1 260.5 669.7 260.5C671.4 260.5 673.1 260.5 674.7 260.5C676.4 260.5 678.1 260.5 679.7 260.5C681.4 260.5 683.1 260.5 684.7 260.5C686.4 260.5 688.1 260.5 689.7 260.5C691.4 260.5 693.1 260.5 694.7 260.5C696.4 260.5 698.1 260.5 699.7 260.5C701.4 260.5 703.1 260.5 704.8 260.5C706.4 260.5 708.1 260.5 709.8 260.5C711.4 260.5 713.1 260.4 714.8 260.4C716.4 260.4 718.1 260.4 719.8 260.4C721.4 260.4 723.1 260.3 724.8 260.3C726.5 260.3 728.1 260.3 729.8 260.2C731.4 260.2 733.1 260.2 734.8 260.1C736.4 260.1 738.1 260.1 739.8 260C741.4 259.9 743.1 259.8 744.8 259.6C746.4 259.4 748.1 259.2 749.7 258.9C751.3 258.5 753 258.1 754.5 257.6C756.1 257 757.6 256.3 759 255.4C760.4 254.6 761.7 253.5 762.9 252.4C764.2 251.3 765.4 250.1 766.5 248.9C767.7 247.7 768.8 246.5 769.8 245.2C770.9 243.9 771.8 242.5 772.7 241.1C773.5 239.7 774.3 238.2 775.1 236.7C775.9 235.2 776.7 233.8 777.5 232.3C778.3 230.8 779.1 229.4 779.9 227.9C780.6 226.4 781.3 224.9 781.9 223.3C782.6 221.8 783.1 220.2 783.7 218.7C784.3 217.1 784.8 215.5 785.3 213.9C785.9 212.4 786.4 210.8 787 209.2C787.5 207.6 788.1 206.1 788.7 204.5C789.2 202.9 789.8 201.4 790.4 199.8C790.9 198.2 791.4 196.6 791.9 195C792.4 193.4 792.8 191.8 793.2 190.2C793.6 188.6 794 187 794.4 185.4C794.8 183.7 795.1 182.1 795.5 180.5C795.9 178.8 796.3 177.2 796.6 175.6C797 174 797.4 172.3 797.8 170.7C798.2 169.1 798.6 167.5 799 165.9C799.4 164.2 799.8 162.6 800.2 161C800.6 159.4 801 157.8 801.4 156.2C801.9 154.5 802.3 152.9 802.7 151.3C803.2 149.7 803.6 148.1 804.1 146.5C804.5 144.9 805 143.3 805.5 141.7C806 140.1 806.5 138.5 807 136.9C807.5 135.3 808 133.8 808.5 132.2C809.1 130.6 809.6 129 810.2 127.5C810.8 125.9 811.4 124.3 812 122.8C812.6 121.2 813.3 119.7 814 118.2C814.7 116.7 815.5 115.2 816.3 113.8C817.2 112.4 818.1 110.9 819.1 109.6C820.2 108.4 821.4 107.1 822.7 106.3C824.1 105.5 825.7 105 827.3 104.9C828.8 104.8 830.5 105.1 832 105.7C833.5 106.3 834.9 107.3 836.1 108.4C837.3 109.4 838.4 110.8 839.5 112C840.5 113.3 841.5 114.7 842.4 116.1C843.3 117.5 844.2 118.9 845 120.4C845.9 121.8 846.6 123.3 847.4 124.8C848.2 126.2 848.9 127.8 849.6 129.2C850.4 130.7 851.2 132.2 852 133.7C852.8 135.1 853.6 136.6 854.5 138C855.4 139.4 856.2 140.8 857.2 142.2C858.1 143.6 859.1 145 860.1 146.3C861.1 147.6 862.1 148.9 863.3 150.1C864.4 151.3 865.6 152.5 866.9 153.5C868.2 154.6 869.5 155.6 870.9 156.6C872.3 157.5 873.7 158.4 875.2 159.1C876.7 159.7 878.3 160.3 879.9 160.7C881.5 161 883.2 161.2 884.9 161.3C886.5 161.4 888.2 161.3 889.9 161.2C891.5 161.1 893.2 160.9 894.8 160.6C896.4 160.3 898 159.8 899.7 159.3C901.3 158.9 902.8 158.3 904.4 157.8C906 157.4 907.6 156.9 909.2 156.5C910.9 156.2 912.5 155.9 914.2 155.6C915.8 155.3 917.5 155.1 919.1 154.9C920.8 154.7 922.4 154.6 924.1 154.5C925.8 154.4 927.4 154.4 929.1 154.4C930.8 154.4 932.4 154.4 934.1 154.4C935.8 154.5 937.4 154.6 939.1 154.7C940.8 154.8 942.4 155 944.1 155.2C945.7 155.4 947.4 155.7 949 156.1C950.6 156.4 952.2 156.9 953.8 157.3C955.4 157.8 957 158.3 958.6 158.9C960.1 159.5 961.7 160.1 963.2 160.8C964.7 161.4 966.3 162.2 967.7 162.9C969.2 163.7 970.7 164.5 972.1 165.3C973.6 166.2 975 167.1 976.3 168C977.7 169 979 170 980.3 171.1C981.6 172.1 982.8 173.2 984.1 174.3C985.3 175.5 986.5 176.6 987.7 177.8C988.9 179 990 180.2 991.1 181.5C992.2 182.7 993.2 184 994.2 185.4C995.3 186.7 996.3 188 997.2 189.4C998.1 190.8 999 192.2 999.8 193.6C1000.6 195.1 1001.4 196.6 1002.1 198.1C1002.8 199.6 1003.5 201.1 1004.1 202.7C1004.8 204.2 1005.4 205.7 1006 207.3C1006.6 208.9 1007.1 210.4 1007.6 212C1008.1 213.6 1008.6 215.2 1009 216.8C1009.5 218.4 1009.9 220 1010.3 221.7C1010.8 223.3 1011.3 224.9 1011.8 226.5C1012.2 228.1 1012.7 229.6 1013.2 231.2C1013.7 232.8 1014.2 234.4 1014.7 236C1015.2 237.6 1015.6 239.2 1016.1 240.8C1016.6 242.4 1017 244 1017.5 245.6C1018 247.2 1018.5 248.8 1019 250.4C1019.5 252 1020.1 253.9 1020.5 255.2C1021 256.4 1021.3 257.5 1021.5 258" stroke-width="1.9" stroke-dasharray="8.5 6.8"/>
<path d="M671 258L700 253.4L731 248.6L762 248.6L770 257.5L778.5 268.7L805 297L816.5 289.6L826 278.2L833.5 268.7L841 262.6L853 259.8L870 260.4" stroke-width="1.9"/>
<path d="M614.7 259.5C615.5 259.5 618 259.5 619.7 259.4C621.4 259.4 623.1 259.4 624.7 259.4C626.4 259.3 628.1 259.3 629.8 259.3C631.4 259.2 633.1 259.2 634.8 259.1C636.4 259.1 638.1 259.1 639.8 259C641.5 259 643.1 258.9 644.8 258.9C646.5 258.8 648.1 258.7 649.8 258.7C651.5 258.6 653.2 258.5 654.8 258.5C656.5 258.4 658.2 258.3 659.9 258.2C661.5 258.1 663.2 258 664.9 257.9C666.5 257.8 668.2 257.7 669.9 257.6C671.5 257.4 673.2 257.3 674.8 257.1C676.5 256.9 678.1 256.6 679.8 256.4C681.4 256.1 683.1 255.8 684.7 255.5C686.4 255.2 688 254.9 689.7 254.5C691.3 254.2 692.9 253.9 694.6 253.5C696.2 253.2 697.9 252.9 699.5 252.6C701.2 252.3 702.8 252 704.5 251.7C706.1 251.4 707.8 251.1 709.4 250.8C711 250.5 712.7 250.1 714.3 249.8C716 249.5 717.6 249.2 719.3 248.9C720.9 248.6 722.5 248.3 724.2 248C725.8 247.7 727.5 247.4 729.1 247.1C730.8 246.8 732.4 246.4 734.1 246.1C735.7 245.9 737.4 245.6 739 245.5C740.7 245.3 742.4 245.3 744 245.3C745.7 245.2 747.4 245.2 749.1 245.3C750.7 245.3 752.5 245.4 754.1 245.6C755.7 245.9 757.3 246.3 758.7 247C760.2 247.7 761.6 248.8 762.8 249.9C764.1 250.9 765.3 252.2 766.4 253.5C767.5 254.7 768.5 256.1 769.5 257.4C770.5 258.8 771.4 260.2 772.3 261.6C773.2 263 774.1 264.4 774.9 265.9C775.8 267.3 776.7 268.7 777.5 270.2C778.4 271.6 779.2 273.1 780.1 274.5C781 275.9 781.8 277.4 782.7 278.8C783.6 280.2 784.6 281.5 785.6 282.9C786.6 284.2 787.7 285.5 788.9 286.7C790 287.9 791.1 289.2 792.4 290.3C793.6 291.4 794.9 292.6 796.3 293.3C797.7 294.1 799.3 294.8 800.8 294.9C802.3 295 804 294.6 805.4 294C806.8 293.3 808.1 292.1 809.4 291.1C810.7 290 811.9 288.8 813 287.6C814.2 286.4 815.4 285.2 816.5 283.9C817.6 282.7 818.7 281.4 819.8 280.1C820.9 278.9 821.9 277.6 823 276.3C824.1 275 825.2 273.7 826.3 272.5C827.4 271.2 828.5 269.9 829.6 268.8C830.8 267.6 832 266.4 833.3 265.3C834.6 264.3 836.2 263.2 837.4 262.5C838.5 261.7 839.6 261.2 840 261" stroke-width="1.9" stroke-dasharray="8.5 6.8"/>
<path d="M745 260.6L757 259L768.5 253.4L786.3 245L805 245L812.7 260.1L826 280L833.5 290.5L845 292.8L856.3 285.8L871.5 276.3L886.7 267.7L899 262.4L911 260.6L975 260.6L982 257L988.8 253.4L998.6 245.3L1005 233.8L1010 222.4L1016.6 210.2" stroke-width="1.9"/>
<path d="M760 259.5C760.8 259.2 763.1 258.4 764.7 257.8C766.3 257.2 767.8 256.6 769.4 256C770.9 255.4 772.5 254.7 774 254.1C775.5 253.4 777 252.7 778.6 252.1C780.2 251.5 781.8 250.9 783.4 250.6C785 250.3 786.7 250.1 788.1 250.4C789.6 250.7 791 251.7 792.2 252.7C793.4 253.7 794.3 255.3 795.1 256.7C796 258.1 796.6 259.7 797.3 261.2C797.9 262.7 798.5 264.3 799.1 265.9C799.7 267.4 800.4 269 801 270.5C801.7 272 802.4 273.5 803.1 275C803.7 276.6 804.4 278.1 805.1 279.6C805.8 281.1 806.5 282.7 807.2 284.1C808 285.6 808.8 287.1 809.6 288.5C810.4 290 811.2 291.5 812.1 292.9C812.9 294.3 813.8 295.8 814.8 297.1C815.8 298.4 816.8 299.7 818.1 300.8C819.3 301.9 820.7 302.9 822.2 303.5C823.6 304.1 825.3 304.6 826.9 304.5C828.4 304.5 830 303.9 831.3 303.2C832.6 302.4 833.8 301 834.9 299.8C836.1 298.6 837 297.2 838 295.9C838.9 294.5 839.8 293.1 840.6 291.6C841.5 290.2 842.3 288.7 843.1 287.3C843.9 285.8 844.7 284.4 845.6 282.9C846.5 281.5 847.3 280.1 848.2 278.7C849.2 277.3 850.1 276 851.1 274.6C852.1 273.3 853.2 272 854.3 270.7C855.3 269.4 856.4 268.1 857.5 266.9C858.6 265.6 859.7 264.4 860.8 263.2C862 262 863.2 260.8 864.4 259.7C865.7 258.6 866.9 257.5 868.3 256.6C869.7 255.6 871.1 254.8 872.6 254.1C874.1 253.4 875.7 252.9 877.3 252.6C878.9 252.2 880.6 251.9 882.3 251.8C883.9 251.6 885.6 251.7 887.2 251.7C888.9 251.7 890.6 251.8 892.2 252C893.9 252.2 895.6 252.4 897.2 252.8C898.8 253.2 900.4 253.7 901.9 254.2C903.5 254.8 905 255.6 906.5 256.2C908 256.9 909.6 257.6 911.1 258.2C912.7 258.8 914.2 259.4 915.8 260C917.4 260.5 919 260.9 920.6 261.3C922.2 261.7 923.9 262.1 925.5 262.3C927.2 262.6 928.8 262.8 930.5 263C932.1 263.2 933.8 263.3 935.4 263.4C937.1 263.5 938.8 263.6 940.4 263.6C942.1 263.7 943.8 263.8 945.4 263.8C947.1 263.9 948.8 264 950.5 264C952.1 264.1 953.8 264.1 955.5 264.2C957.2 264.2 959 264.2 960.7 264.3C962.4 264.3 964.1 264.4 965.8 264.4C967.4 264.4 969.1 264.5 970.7 264.4C972.3 264.4 973.8 264.4 975.3 264C976.8 263.6 978.2 262.7 979.6 261.9C981.1 261.1 982.5 260 984 259.2C985.4 258.3 986.9 257.6 988.4 256.8C989.8 256 991.2 255.1 992.6 254.2C994 253.2 995.4 252.3 996.7 251.2C998 250.2 999.4 249.2 1000.5 248C1001.6 246.8 1002.6 245.5 1003.5 244.1C1004.4 242.8 1005.2 241.2 1006 239.8C1006.8 238.3 1007.6 236.9 1008.4 235.4C1009.3 234 1010.1 232.5 1010.9 231C1011.6 229.6 1012.4 228.1 1013.1 226.6C1013.8 225.1 1014.5 223.5 1015.2 222C1015.9 220.5 1016.6 219 1017.3 217.5C1018 216 1018.8 214.2 1019.4 212.9C1019.9 211.7 1020.4 210.7 1020.6 210.2" stroke-width="1.9" stroke-dasharray="8.5 6.8"/>
<path d="M930 262.5C930.8 262.6 933.3 262.7 935 262.8C936.7 263 938.3 263.1 940 263.2C941.7 263.3 943.3 263.4 945 263.5C946.7 263.6 948.3 263.7 950 263.8C951.6 263.9 953.3 264.1 955 264.2C956.6 264.3 958.3 264.4 960 264.5C961.6 264.6 963.3 264.7 965 264.8C966.6 264.9 968.3 265.1 970 265.2C971.6 265.3 973.3 265.4 975 265.5C976.6 265.6 978.3 265.7 980 265.8C981.6 265.9 983.3 266 985 266.1C986.6 266.1 988.3 266.2 990 266.3C991.6 266.4 993.3 266.5 995 266.5C996.6 266.5 998.3 266.6 1000 266.6C1001.6 266.6 1003.3 266.6 1005 266.6C1006.6 266.6 1008.3 266.6 1010 266.6C1011.6 266.6 1013.3 266.6 1015 266.5C1016.7 266.5 1018.7 266.5 1020 266.5C1021.3 266.4 1022.5 266.4 1023 266.4" stroke-width="1.9" stroke-dasharray="8.5 6.8"/>
<path d="M965 262C965.8 262.2 968.3 262.7 969.9 263C971.6 263.3 973.2 263.6 974.9 263.9C976.5 264.1 978.2 264.3 979.8 264.5C981.5 264.7 983.1 264.8 984.8 265C986.5 265.1 988.1 265.2 989.8 265.2C991.5 265.3 993.1 265.4 994.8 265.4C996.5 265.4 998.1 265.5 999.8 265.4C1001.4 265.3 1003.1 265.1 1004.7 264.8C1006.4 264.5 1007.8 264.1 1009.6 263.5C1011.3 262.9 1014.1 261.4 1015 261" stroke-width="1.3"/>
<path d="M671 264.5C671.8 264.6 674.3 265.1 675.9 265.4C677.6 265.7 679.2 266 680.8 266.3C682.5 266.5 684.1 266.8 685.8 267.1C687.4 267.4 689.1 267.7 690.7 268.1C692.3 268.4 694 268.7 695.6 269C697.2 269.3 698.9 269.6 700.5 269.9C702.2 270.2 703.8 270.5 705.4 270.8C707.1 271.1 708.7 271.5 710.4 271.8C712 272.1 713.6 272.4 715.3 272.7C716.9 273 718.5 273.4 720.2 273.7C721.8 274 723.4 274.4 725.1 274.7C726.7 275 728.3 275.4 730 275.7C731.6 276.1 733.2 276.4 734.8 276.8C736.5 277.2 738.1 277.6 739.7 277.9C741.3 278.3 743 278.7 744.6 279.1C746.2 279.5 747.8 279.9 749.4 280.3C751.1 280.7 752.7 281.1 754.3 281.6C755.9 282 757.5 282.4 759.1 282.8C760.7 283.3 762.3 283.7 764 284.1C765.6 284.6 767.2 285 768.8 285.5C770.4 285.9 772 286.4 773.6 286.9C775.2 287.4 776.8 287.9 778.3 288.5C779.9 289.1 781.5 289.7 782.9 290.5C784.4 291.2 785.8 292.1 787.1 293.1C788.5 294 789.7 295.2 790.8 296.4C792 297.6 793.1 298.8 794.2 300.1C795.3 301.4 796.3 302.7 797.3 304.1C798.2 305.4 799.2 306.8 800.1 308.2C801 309.6 801.8 311 802.7 312.5C803.5 313.9 804.3 315.4 805.1 316.8C806 318.3 806.7 319.7 807.6 321.2C808.4 322.6 809.2 324.1 810.1 325.5C810.9 326.9 811.8 328.4 812.7 329.8C813.5 331.2 814.4 332.7 815.2 334.1C816.1 335.5 816.9 337 817.8 338.4C818.7 339.8 819.5 341.2 820.4 342.6C821.4 344 822.3 345.4 823.3 346.8C824.2 348.1 825.2 349.5 826.3 350.8C827.3 352 828.4 353.3 829.6 354.5C830.7 355.7 831.9 356.9 833.2 358C834.4 359.1 835.7 360.1 837.1 361.1C838.5 362 839.9 362.9 841.3 363.7C842.8 364.5 844.3 365.2 845.8 365.9C847.4 366.6 848.9 367.2 850.5 367.7C852.1 368.2 853.7 368.7 855.3 369C856.9 369.3 858.6 369.5 860.3 369.6C861.9 369.7 863.6 369.8 865.3 369.8C866.9 369.8 868.6 369.7 870.3 369.6C871.9 369.5 873.6 369.3 875.2 369.1C876.9 368.8 878.5 368.6 880.2 368.3C881.8 367.9 883.4 367.6 885 367.2C886.7 366.8 888.3 366.3 889.9 365.9C891.5 365.4 893.1 364.9 894.7 364.4C896.3 363.9 897.9 363.5 899.5 363C901.1 362.5 902.7 362.1 904.3 361.6C905.9 361.1 907.5 360.7 909.1 360.2C910.7 359.7 912.3 359.2 913.9 358.8C915.5 358.3 917.1 357.8 918.7 357.4C920.3 356.9 921.9 356.5 923.5 356.1C925.1 355.7 926.7 355.3 928.3 354.9C930 354.5 931.6 354.1 933.2 353.7C934.8 353.3 936.4 352.9 938.1 352.5C939.7 352.1 941.3 351.7 942.9 351.3C944.5 350.8 946.1 350.4 947.7 349.9C949.3 349.4 950.9 348.9 952.5 348.4C954.1 347.9 955.7 347.4 957.2 346.9C958.8 346.3 960.4 345.7 962 345.2C963.5 344.6 965.1 344 966.6 343.3C968.2 342.7 969.7 342 971.2 341.3C972.7 340.6 974.2 339.9 975.6 339C977.1 338.2 978.5 337.3 979.8 336.3C981.2 335.4 982.5 334.3 983.8 333.3C985.1 332.2 986.3 331.1 987.5 329.9C988.7 328.8 989.9 327.6 991.1 326.4C992.2 325.2 993.4 324 994.5 322.8C995.6 321.5 996.7 320.3 997.8 319C998.9 317.8 999.9 316.5 1001 315.2C1002.1 313.9 1003.1 312.6 1004.2 311.3C1005.3 310.1 1006.3 308.7 1007.6 307.7C1008.9 306.7 1010.3 305.7 1011.7 305.3C1013.2 304.9 1015.7 305.3 1016.5 305.3" stroke-width="1.9"/>
<path d="M614.7 262.5C615.5 262.5 618 262.6 619.7 262.6C621.4 262.6 623 262.7 624.7 262.7C626.4 262.8 628.1 262.8 629.7 262.9C631.4 262.9 633.1 263 634.7 263C636.4 263.1 638.1 263.1 639.7 263.2C641.4 263.3 643.1 263.3 644.7 263.4C646.4 263.4 648.1 263.5 649.7 263.6C651.4 263.7 653.1 263.8 654.8 263.8C656.4 263.9 658.1 264 659.8 264.1C661.4 264.2 663.1 264.4 664.7 264.5C666.4 264.7 668.1 264.8 669.7 265C671.4 265.2 673 265.5 674.7 265.7C676.3 266 678 266.3 679.6 266.6C681.3 266.9 682.9 267.2 684.5 267.5C686.2 267.8 687.8 268.1 689.5 268.4C691.1 268.7 692.8 269 694.4 269.3C696.1 269.6 697.7 269.9 699.3 270.2C701 270.5 702.6 270.8 704.3 271.1C705.9 271.4 707.5 271.8 709.2 272.1C710.8 272.5 712.4 272.9 714 273.3C715.6 273.7 717.2 274.2 718.8 274.7C720.4 275.1 722 275.7 723.6 276.2C725.2 276.7 726.8 277.2 728.4 277.8C729.9 278.3 731.5 278.9 733.1 279.4C734.7 280 736.2 280.6 737.8 281.2C739.4 281.8 740.9 282.4 742.5 283C744 283.6 745.5 284.3 747.1 284.9C748.6 285.6 750.1 286.3 751.6 287C753.1 287.8 754.6 288.5 756.1 289.3C757.6 290 759.1 290.8 760.6 291.5C762.1 292.3 763.5 293.1 765 293.9C766.5 294.6 768 295.4 769.5 296.2C770.9 296.9 772.4 297.7 773.9 298.5C775.4 299.3 776.8 300.1 778.2 301C779.6 301.9 781 302.8 782.4 303.8C783.7 304.8 785 305.9 786.2 307C787.5 308.1 788.7 309.2 789.9 310.4C791.1 311.5 792.3 312.7 793.4 314C794.5 315.2 795.6 316.5 796.7 317.8C797.7 319 798.7 320.4 799.8 321.7C800.8 323 801.8 324.3 802.8 325.7C803.8 327 804.8 328.4 805.8 329.7C806.7 331.1 807.7 332.5 808.6 333.8C809.5 335.2 810.4 336.6 811.4 338C812.3 339.4 813.2 340.8 814.1 342.2C815 343.6 816 345 816.9 346.4C817.8 347.7 818.8 349.1 819.7 350.5C820.7 351.9 821.6 353.2 822.6 354.6C823.6 355.9 824.6 357.3 825.6 358.6C826.6 359.9 827.7 361.2 828.8 362.5C829.9 363.8 831 365 832.1 366.2C833.3 367.4 834.5 368.6 835.7 369.7C836.9 370.8 838.2 372 839.5 373C840.8 374 842.2 375 843.6 375.8C845.1 376.6 846.6 377.4 848.1 377.9C849.7 378.5 851.3 378.9 853 379.1C854.6 379.4 856.3 379.4 857.9 379.4C859.6 379.3 861.3 379.2 862.9 379C864.5 378.7 866.2 378.4 867.8 378C869.4 377.6 871 377.1 872.6 376.7C874.2 376.2 875.8 375.7 877.4 375.2C879 374.7 880.6 374.2 882.2 373.7C883.8 373.2 885.4 372.8 887 372.3C888.6 371.9 890.2 371.4 891.9 371C893.5 370.6 895.1 370.2 896.7 369.8C898.3 369.4 900 369 901.6 368.6C903.2 368.2 904.8 367.7 906.4 367.3C908 366.9 909.7 366.5 911.3 366.2C912.9 365.8 914.6 365.5 916.2 365.2C917.8 364.9 919.5 364.6 921.1 364.3C922.8 364 924.4 363.7 926.1 363.5C927.7 363.2 929.4 363 931 362.7C932.7 362.5 934.3 362.2 936 362C937.6 361.7 939.3 361.5 940.9 361.2C942.6 361 944.2 360.7 945.9 360.5C947.5 360.2 949.2 359.9 950.8 359.7C952.5 359.4 954.1 359.2 955.8 358.9C957.4 358.7 959.1 358.4 960.8 358.2C962.4 357.9 964 357.6 965.7 357.2C967.3 356.9 968.9 356.4 970.5 355.9C972.1 355.4 973.6 354.8 975.2 354.2C976.7 353.5 978.2 352.8 979.7 352.1C981.2 351.3 982.7 350.6 984.2 349.7C985.6 348.8 987 347.9 988.4 346.9C989.7 345.9 990.9 344.9 992.1 343.7C993.3 342.6 994.4 341.3 995.4 340C996.5 338.7 997.5 337.3 998.5 336C999.5 334.7 1000.5 333.3 1001.5 332C1002.5 330.7 1003.6 329.4 1004.6 328.1C1005.7 326.8 1006.8 325.5 1007.8 324.2C1008.9 322.9 1010.1 321.7 1011.1 320.4C1012.1 319.1 1012.9 318 1013.9 316.3C1014.9 314.6 1016.5 311.1 1017 310" stroke-width="1.9" stroke-dasharray="8.5 6.8"/>
</g>
</g>
<g id="labels">
<text x="2" y="24" font-size="30">(</text>
<text x="11.3" y="25" font-size="30" class="i">a</text>
<text x="27" y="24" font-size="30">)</text>
<text x="547" y="24" font-size="30">(</text>
<text x="556.9" y="25" font-size="30" class="i">b</text>
<text x="571.6" y="24" font-size="30">)</text>
<text x="256.8" y="25" font-size="30" class="i">y</text>
<text x="269.6" y="30.7" font-size="38" class="n">/</text>
<text x="282.3" y="25" font-size="30" class="i">h</text>
<text x="800.8" y="25" font-size="30" class="i">y</text>
<text x="813.6" y="30.7" font-size="38" class="n">/</text>
<text x="826.3" y="25" font-size="30" class="i">h</text>
<text x="267.5" y="518.8" font-size="30" class="i">y</text>
<text x="279.4" y="511" font-size="26" class="n">+</text>
<text x="830.1" y="518.8" font-size="30" class="i">y</text>
<text x="842" y="511" font-size="26" class="n">+</text>
<text x="99.7" y="65.6" font-size="26" text-anchor="middle"><tspan textLength="24.6" lengthAdjust="spacingAndGlyphs">10</tspan><tspan dy="-9.9" font-size="19.5">−</tspan><tspan dy="0.4" font-size="17">4</tspan></text>
<text x="636.3" y="65.6" font-size="26" text-anchor="middle"><tspan textLength="24.6" lengthAdjust="spacingAndGlyphs">10</tspan><tspan dy="-9.9" font-size="19.5">−</tspan><tspan dy="0.4" font-size="17">4</tspan></text>
<text x="195" y="65.6" font-size="26" text-anchor="middle"><tspan textLength="24.6" lengthAdjust="spacingAndGlyphs">10</tspan><tspan dy="-9.9" font-size="19.5">−</tspan><tspan dy="0.4" font-size="17">3</tspan></text>
<text x="731.6" y="65.6" font-size="26" text-anchor="middle"><tspan textLength="24.6" lengthAdjust="spacingAndGlyphs">10</tspan><tspan dy="-9.9" font-size="19.5">−</tspan><tspan dy="0.4" font-size="17">3</tspan></text>
<text x="290.3" y="65.6" font-size="26" text-anchor="middle"><tspan textLength="24.6" lengthAdjust="spacingAndGlyphs">10</tspan><tspan dy="-9.9" font-size="19.5">−</tspan><tspan dy="0.4" font-size="17">2</tspan></text>
<text x="826.9" y="65.6" font-size="26" text-anchor="middle"><tspan textLength="24.6" lengthAdjust="spacingAndGlyphs">10</tspan><tspan dy="-9.9" font-size="19.5">−</tspan><tspan dy="0.4" font-size="17">2</tspan></text>
<text x="385.6" y="65.6" font-size="26" text-anchor="middle"><tspan textLength="24.6" lengthAdjust="spacingAndGlyphs">10</tspan><tspan dy="-9.9" font-size="19.5">−</tspan><tspan dy="0.4" font-size="17">1</tspan></text>
<text x="922.2" y="65.6" font-size="26" text-anchor="middle"><tspan textLength="24.6" lengthAdjust="spacingAndGlyphs">10</tspan><tspan dy="-9.9" font-size="19.5">−</tspan><tspan dy="0.4" font-size="17">1</tspan></text>
<text x="480.9" y="65.6" font-size="26" text-anchor="middle"><tspan textLength="24.6" lengthAdjust="spacingAndGlyphs">10</tspan><tspan dy="-9.5" font-size="17">0</tspan></text>
<text x="1017.5" y="65.6" font-size="26" text-anchor="middle"><tspan textLength="24.6" lengthAdjust="spacingAndGlyphs">10</tspan><tspan dy="-9.5" font-size="17">0</tspan></text>
<text x="77.5" y="483" font-size="26" text-anchor="middle"><tspan textLength="24.6" lengthAdjust="spacingAndGlyphs">10</tspan><tspan dy="-9.9" font-size="19.5">−</tspan><tspan dy="0.4" font-size="17">1</tspan></text>
<text x="613.5" y="483" font-size="26" text-anchor="middle"><tspan textLength="24.6" lengthAdjust="spacingAndGlyphs">10</tspan><tspan dy="-9.9" font-size="19.5">−</tspan><tspan dy="0.4" font-size="17">1</tspan></text>
<text x="174" y="483" font-size="26" text-anchor="middle"><tspan textLength="24.6" lengthAdjust="spacingAndGlyphs">10</tspan><tspan dy="-9.5" font-size="17">0</tspan></text>
<text x="710" y="483" font-size="26" text-anchor="middle"><tspan textLength="24.6" lengthAdjust="spacingAndGlyphs">10</tspan><tspan dy="-9.5" font-size="17">0</tspan></text>
<text x="268.5" y="483" font-size="26" text-anchor="middle"><tspan textLength="24.6" lengthAdjust="spacingAndGlyphs">10</tspan><tspan dy="-9.5" font-size="17">1</tspan></text>
<text x="805.3" y="483" font-size="26" text-anchor="middle"><tspan textLength="24.6" lengthAdjust="spacingAndGlyphs">10</tspan><tspan dy="-9.5" font-size="17">1</tspan></text>
<text x="363.7" y="483" font-size="26" text-anchor="middle"><tspan textLength="24.6" lengthAdjust="spacingAndGlyphs">10</tspan><tspan dy="-9.5" font-size="17">2</tspan></text>
<text x="900.9" y="483" font-size="26" text-anchor="middle"><tspan textLength="24.6" lengthAdjust="spacingAndGlyphs">10</tspan><tspan dy="-9.5" font-size="17">2</tspan></text>
<text x="459.1" y="483" font-size="26" text-anchor="middle"><tspan textLength="24.6" lengthAdjust="spacingAndGlyphs">10</tspan><tspan dy="-9.5" font-size="17">3</tspan></text>
<text x="997.3" y="483" font-size="26" text-anchor="middle"><tspan textLength="24.6" lengthAdjust="spacingAndGlyphs">10</tspan><tspan dy="-9.5" font-size="17">3</tspan></text>
<text x="68.4" y="82.1" font-size="26" text-anchor="end">4</text>
<text x="68.4" y="175.7" font-size="26" text-anchor="end">3</text>
<text x="68.4" y="269.3" font-size="26" text-anchor="end">2</text>
<text x="68.4" y="362.9" font-size="26" text-anchor="end">1</text>
<text x="68.4" y="456.5" font-size="26" text-anchor="end">0</text>
<text x="605.6" y="83.5" font-size="25" text-anchor="end">4</text>
<text x="605.6" y="177.1" font-size="25" text-anchor="end">2</text>
<text x="605.6" y="270.7" font-size="25" text-anchor="end">0</text>
<text x="605.6" y="364.3" font-size="25" text-anchor="end"><tspan font-size="30" dy="0.6">−</tspan><tspan dy="-0.6" dx="1.3">2</tspan></text>
<text x="605.6" y="457.9" font-size="25" text-anchor="end"><tspan font-size="30" dy="0.6">−</tspan><tspan dy="-0.6" dx="1.3">4</tspan></text>
<text x="363.1" y="154.8" font-size="25" class="i">p</text>
<text x="376.4" y="158.6" font-size="17" class="i">rms</text>
<text x="374.9" y="148.1" font-size="22" class="n">+</text>
<text x="278.9" y="229" font-size="25" class="i">u</text>
<text x="293" y="232.5" font-size="17" class="i">rms</text>
<text x="291.5" y="222.3" font-size="22" class="n">+</text>
<text x="343.4" y="300.3" font-size="25" class="i">w</text>
<text x="361.4" y="303.9" font-size="17" class="i">rms</text>
<text x="360.2" y="293.4" font-size="22" class="n">+</text>
<text x="359.3" y="391" font-size="25" class="i">υ</text>
<text x="371.9" y="394.5" font-size="17" class="i">rms</text>
<text x="370.7" y="383.9" font-size="22" class="n">+</text>
<text x="880.7" y="134.7" font-size="25" class="i">y</text>
<text x="890.2" y="128.6" font-size="22" class="n">+</text>
<text x="903.7" y="134.8" font-size="25" class="i">P</text>
<text x="918.1" y="128.6" font-size="22" class="n">+</text>
<text x="698.4" y="233" font-size="25" class="i">y</text>
<text x="708.5" y="226.4" font-size="22" class="n">+</text>
<text x="722.2" y="232.9" font-size="25" class="i">T</text>
<text x="736.3" y="236.7" font-size="17" class="i">v</text>
<text x="742.1" y="226.6" font-size="22" class="n">+</text>
<text x="848.4" y="321.1" font-size="25" class="i">y</text>
<text x="858.5" y="314.5" font-size="22" class="n">+</text>
<text x="872.2" y="321.2" font-size="25" class="i">T</text>
<text x="886.6" y="315" font-size="22" class="n">+</text>
<text x="886.2" y="324.6" font-size="17" class="i">turb</text>
<text x="949" y="298.2" font-size="25" class="i">y</text>
<text x="959" y="291.5" font-size="22" class="n">+</text>
<text x="972.5" y="298" font-size="25" class="i">T</text>
<text x="985.9" y="302.5" font-size="17" class="i">p</text>
<text x="993.8" y="291.5" font-size="22" class="n">+</text>
<text x="720.2" y="411.5" font-size="25" class="i">y</text>
<text x="729.4" y="405.3" font-size="22" class="n">+</text>
<text x="744.6" y="410.8" font-size="23">(</text>
<text x="753.4" y="411.4" font-size="25" class="i">ε</text>
<text x="763.7" y="405.3" font-size="22" class="n">+</text>
<text x="784.1" y="415.5" font-size="31" class="n">+</text>
<text x="810" y="411.3" font-size="25" class="i">ε</text>
<text x="821.3" y="405.9" font-size="20" class="n">+</text>
<text x="824.5" y="415.3" font-size="17" class="i">SGS</text>
<text x="854.2" y="410.8" font-size="23">)</text>
<text x="867.8" y="411.2" font-size="25">or</text>
<text x="896.9" y="411.3" font-size="25" class="i">y</text>
<text x="906.9" y="405.3" font-size="22" class="n">+</text>
<text x="926.1" y="411.3" font-size="25" class="i">ε</text>
<text x="936.7" y="405.5" font-size="22" class="n">+</text>
</g>
</svg></body></html>
